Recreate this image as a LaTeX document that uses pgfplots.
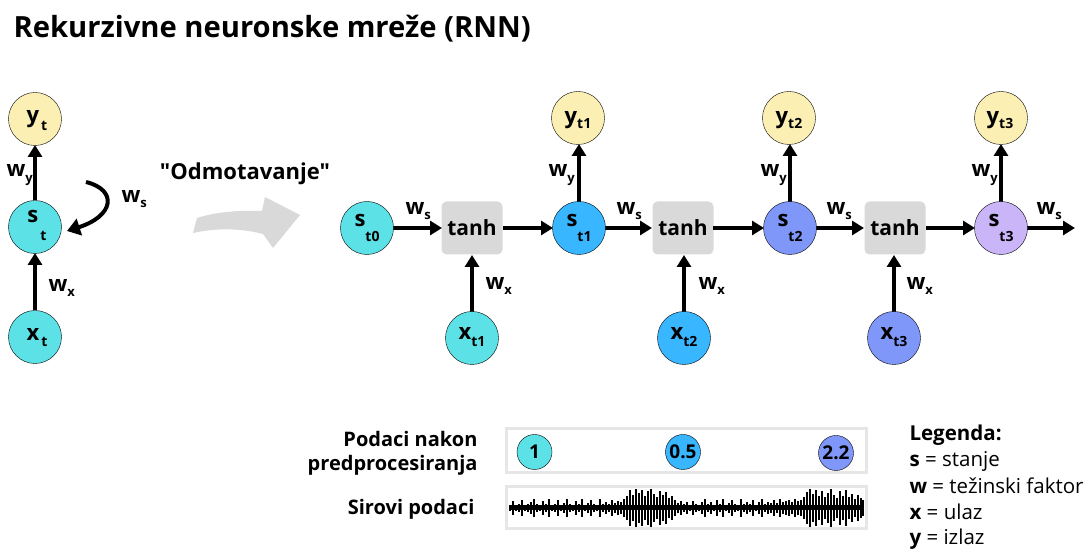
\documentclass[border=0pt]{standalone}
\usepackage{fontspec}
\setmainfont{Open Sans}[Ligatures=TeXOff]
\usepackage{pgfplots}
\pgfplotsset{compat=1.18}
\usetikzlibrary{arrows.meta}
\definecolor{cyanc}{HTML}{5CE1E6}
\definecolor{bluec}{HTML}{38B6FF}
\definecolor{periw}{HTML}{7F97F8}
\definecolor{lavc}{HTML}{CBB5F9}
\definecolor{yelc}{HTML}{FCEFB4}
\definecolor{boxg}{HTML}{D9D9D9}
\definecolor{frameg}{HTML}{E6E6E6}
\newcommand{\fs}[1]{\fontsize{#1}{#1}\selectfont}
\newcommand{\wl}[2]{w\raisebox{#2}{\fs{13}#1}}
\tikzset{arr/.style={line width=3.2pt, -{Triangle[length=12pt,width=14pt]}},
  lab/.style={anchor=base,font=\fs{22}\bfseries},
  wlab/.style={anchor=base west,font=\fs{22}\bfseries},
  tanhbox/.style={fill=boxg,rounded corners=5pt,minimum width=61pt,minimum height=53pt,inner sep=0pt,font=\fs{21}\bfseries}}
\pgfplotsset{circ/.style={only marks,mark=*,mark size=26.5pt,mark options={draw=none,fill=#1}},
  scirc/.style={only marks,mark=*,mark size=17.5pt,mark options={draw=none,fill=#1}}}
\pgfplotstableread{
x y e
510 508 3
513 508 7
516 508 3
519 508 4
522 508 8
525 508 3
528 508 4
531 508 6
534 508 9
537 508 4
540 508 3
543 508 7
546 508 4
549 508 9
552 508 3
555 508 4
558 508 8
561 508 3
564 508 5
567 508 9
570 508 4
573 508 3
576 508 7
579 508 4
582 508 9
585 508 3
588 508 5
591 508 8
594 508 4
597 508 3
600 508 9
603 508 4
606 508 6
609 508 4
612 508 8
615 508 5
618 508 7
621 508 6
624 508 9
627 508 12
630 508 18
633 508 13
636 508 19
639 508 15
642 508 18
645 508 12
648 508 17
651 508 19
654 508 14
657 508 11
660 508 17
663 508 13
666 508 16
669 508 10
672 508 12
675 508 8
678 508 5
681 508 7
684 508 4
687 508 6
690 508 3
693 508 7
696 508 4
699 508 3
702 508 6
705 508 9
708 508 4
711 508 6
714 508 3
717 508 8
720 508 4
723 508 9
726 508 3
729 508 5
732 508 8
735 508 4
738 508 3
741 508 9
744 508 4
747 508 6
750 508 4
753 508 8
756 508 3
759 508 6
762 508 9
765 508 4
768 508 6
771 508 5
774 508 8
777 508 5
780 508 9
783 508 6
786 508 7
789 508 8
792 508 6
795 508 9
798 508 7
801 508 8
804 508 11
807 508 16
810 508 19
813 508 14
816 508 18
819 508 12
822 508 17
825 508 11
828 508 15
831 508 19
834 508 13
837 508 10
840 508 17
843 508 12
846 508 18
849 508 11
852 508 14
855 508 9
858 508 13
861 508 10
863 508 8
}\wave
\begin{document}
\begin{tikzpicture}
\begin{axis}[width=1088pt,height=556pt,scale only axis,xmin=0,xmax=1088,ymin=0,ymax=556,
  y dir=reverse,hide axis,clip=false,set layers]
\addplot[draw=none] coordinates {(0,0) (1088,556)};
% gray unrolling arrow
\fill[boxg] (axis cs:193,233) -- (axis cs:197,218) .. controls (axis cs:215,212) and (axis cs:240,210) .. (axis cs:262,211)
  -- (axis cs:265,197) -- (axis cs:300,215) -- (axis cs:273,248) -- (axis cs:263,234)
  .. controls (axis cs:240,228) and (axis cs:215,228) .. (axis cs:193,233) -- cycle;
% tanh boxes
\node[tanhbox] at (axis cs:472,228) {tanh};
\node[tanhbox] at (axis cs:683,228) {tanh};
\node[tanhbox] at (axis cs:895,228) {tanh};
% circles
\addplot[circ=yelc] coordinates {(35,119) (578,118) (789,118) (1001,118)};
\addplot[circ=cyanc] coordinates {(35,227) (35,337) (367,228) (472,338)};
\addplot[circ=bluec] coordinates {(579,228) (684,338)};
\addplot[circ=periw] coordinates {(790,228) (894,338)};
\addplot[circ=lavc] coordinates {(1001,228)};
% arrows left
\addplot[arr] coordinates {(35,310) (35,253)};
\addplot[arr] coordinates {(35,200) (35,145)};
\draw[line width=4pt,-{Triangle[length=13pt,width=17pt]}] (axis cs:86,182) .. controls (axis cs:118,190) and (axis cs:114,216) .. (axis cs:67,231);
% horizontal chain arrows
\addplot[arr] coordinates {(393,228) (442,228)};
\addplot[arr] coordinates {(503,228) (553,228)};
\addplot[arr] coordinates {(605,228) (652,228)};
\addplot[arr] coordinates {(713,228) (764,228)};
\addplot[arr] coordinates {(816,228) (864,228)};
\addplot[arr] coordinates {(926,228) (975,228)};
\addplot[arr] coordinates {(1027,228) (1075,228)};
% vertical arrows
\addplot[arr] coordinates {(472,312) (472,255)};
\addplot[arr] coordinates {(684,312) (684,255)};
\addplot[arr] coordinates {(894,312) (894,255)};
\addplot[arr] coordinates {(579,202) (579,144)};
\addplot[arr] coordinates {(790,202) (790,144)};
\addplot[arr] coordinates {(1001,202) (1001,144)};
% bottom data panel
\draw[frameg,line width=3pt,fill=white] (axis cs:506.5,428.5) rectangle (axis cs:866.5,472.5);
\draw[frameg,line width=3pt,fill=white] (axis cs:506.5,486.5) rectangle (axis cs:866.5,528.5);
\addplot[scirc=cyanc] coordinates {(534.5,452)};
\addplot[scirc=bluec] coordinates {(683,452)};
\addplot[scirc=periw] coordinates {(836,453)};
\addplot[black,line width=5pt] coordinates {(510,508) (864,508)};
\addplot[draw=none,mark=none,error bars/.cd,y dir=both,y explicit,error mark=none,
  error bar style={line width=2pt,black}] table[x=x,y=y,y error=e] {\wave};
\begin{pgfonlayer}{axis foreground}
% title
\node[anchor=base west,font=\fs{29.2}\bfseries] at (axis cs:10,38) {Rekurzivne neuronske mreže (RNN)};
\node[anchor=base,font=\fs{22}\bfseries] at (axis cs:245,180) {"Odmotavanje"};
% circle labels left
\node[lab] at (axis cs:37,123) {y\hspace{2pt}\raisebox{-8pt}{\fs{14}t}};
\node[lab] at (axis cs:37,223) {s\hspace{2pt}\raisebox{-18pt}{\fs{14}t}};
\node[lab] at (axis cs:37,341) {x\hspace{2pt}\raisebox{-6pt}{\fs{14}t}};
% circle labels chain
\node[lab] at (axis cs:367,227) {s\raisebox{-15pt}{\fs{14}t0}};
\node[lab] at (axis cs:579,227) {s\raisebox{-15pt}{\fs{14}t1}};
\node[lab] at (axis cs:790,227) {s\raisebox{-15pt}{\fs{14}t2}};
\node[lab] at (axis cs:1001,227) {s\raisebox{-15pt}{\fs{14}t3}};
\node[lab] at (axis cs:578,124) {y\raisebox{-5pt}{\fs{14}t1}};
\node[lab] at (axis cs:789,124) {y\raisebox{-5pt}{\fs{14}t2}};
\node[lab] at (axis cs:1000,124) {y\raisebox{-5pt}{\fs{14}t3}};
\node[lab] at (axis cs:472,340) {x\raisebox{-7pt}{\fs{14}t1}};
\node[lab] at (axis cs:684,340) {x\raisebox{-7pt}{\fs{14}t2}};
\node[lab] at (axis cs:894,340) {x\raisebox{-7pt}{\fs{14}t3}};
% w labels
\node[wlab] at (axis cs:3,177) {\wl{y}{-6pt}};
\node[wlab] at (axis cs:45,292) {\wl{x}{-5pt}};
\node[wlab] at (axis cs:118,203) {\wl{s}{-5pt}};
\node[wlab] at (axis cs:402,215) {\wl{s}{-5pt}};
\node[wlab] at (axis cs:613,215) {\wl{s}{-5pt}};
\node[wlab] at (axis cs:823,215) {\wl{s}{-5pt}};
\node[wlab] at (axis cs:1033,215) {\wl{s}{-5pt}};
\node[wlab] at (axis cs:545,177) {\wl{y}{-6pt}};
\node[wlab] at (axis cs:757,177) {\wl{y}{-6pt}};
\node[wlab] at (axis cs:968,177) {\wl{y}{-6pt}};
\node[wlab] at (axis cs:482,290) {\wl{x}{-5pt}};
\node[wlab] at (axis cs:695,290) {\wl{x}{-5pt}};
\node[wlab] at (axis cs:903,290) {\wl{x}{-5pt}};
% bottom numbers
\node[font=\fs{19}\bfseries] at (axis cs:534.5,452) {1};
\node[font=\fs{19}\bfseries] at (axis cs:683,452) {0.5};
\node[font=\fs{19}\bfseries] at (axis cs:836,453) {2.2};
\node[anchor=base east,font=\fs{20}\bfseries] at (axis cs:481,447) {Podaci nakon};
\node[anchor=base east,font=\fs{20}\bfseries] at (axis cs:481,471) {predprocesiranja};
\node[anchor=base east,font=\fs{20}\bfseries] at (axis cs:478,515) {Sirovi podaci};
% legend
\node[anchor=base west,font=\fs{20.5}\bfseries] at (axis cs:906,441) {Legenda:};
\node[anchor=base west,font=\fs{20.5}] at (axis cs:906,467) {\textbf{s} = stanje};
\node[anchor=base west,font=\fs{20.5}] at (axis cs:906,494) {\textbf{w} = težinski faktor};
\node[anchor=base west,font=\fs{20.5}] at (axis cs:906,520) {\textbf{x} = ulaz};
\node[anchor=base west,font=\fs{20.5}] at (axis cs:906,545) {\textbf{y} = izlaz};
\end{pgfonlayer}
\end{axis}
\end{tikzpicture}
\end{document}
